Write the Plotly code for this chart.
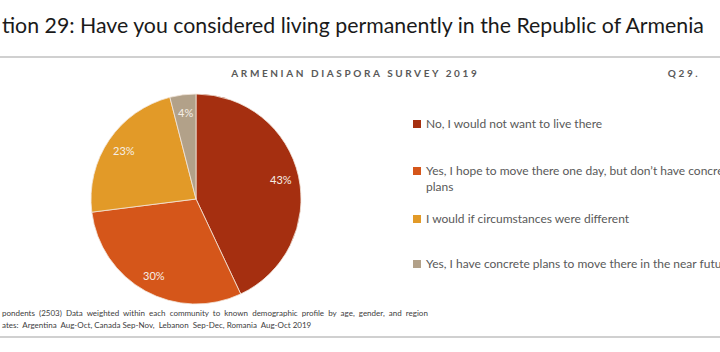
import math
import plotly.graph_objects as go

labels = ["No, I would not want to live there",
          "Yes, I hope to move there one day, but don\u2019t have concrete plans",
          "I would if circumstances were different",
          "Yes, I have concrete plans to move there in the near future"]
legend_text = ["No, I would not want to live there",
               "Yes, I hope to move there one day, but don\u2019t have concrete<br>plans",
               "I would if circumstances were different",
               "Yes, I have concrete plans to move there in the near future"]
values = [43, 30, 23, 4]
colors = ["#A52F10", "#D5561A", "#E29A28", "#B2A189"]

title_text = "tion 29: Have you considered living permanently in the Republic of Armenia"
survey_text = "ARMENIAN DIASPORA SURVEY 2019"
qnum_text = "Q29."
foot1 = "pondents  (2503)  Data  weighted  within  each  community  to  known  demographic  profile  by  age,  gender,  and  region"
foot2 = "ates:  Argentina  Aug-Oct, Canada Sep-Nov,  Lebanon  Sep-Dec, Romania  Aug-Oct 2019"

W, H = 720, 352
cx, cy, r = 196, 199, 105

fig = go.Figure()
fig.add_trace(go.Pie(
    labels=labels, values=values, sort=False, direction="clockwise", rotation=0,
    marker=dict(colors=colors, line=dict(color="#F3E6DA", width=0.8)),
    textinfo="none",
    domain=dict(x=[(cx - r) / W, (cx + r) / W], y=[(H - cy - r) / H, (H - cy + r) / H]),
    showlegend=False, hoverinfo="label+percent",
))

annotations = []
shapes = []
def px(x):
    return x / W
def py(y):
    return 1 - y / H

# slice value labels placed at ~0.83 r along each slice's mid-angle
total = sum(values)
cum = 0
for v in values:
    mid = (cum + v / 2) / total * 2 * math.pi
    cum += v
    lx = cx + 0.83 * r * math.sin(mid)
    ly = cy - 0.83 * r * math.cos(mid)
    annotations.append(dict(text=f"{v}%", x=px(lx), y=py(ly), xref="paper", yref="paper",
                            xanchor="center", yanchor="middle", showarrow=False,
                            font=dict(family="Lato", size=11, color="#F5EEE6")))

annotations.append(dict(text=title_text, x=px(0), y=py(25), xref="paper", yref="paper",
                        xanchor="left", yanchor="middle", showarrow=False,
                        font=dict(family="Lato", size=21.3, color="#1A1A1A")))
annotations.append(dict(text="<b>" + survey_text + "</b>", x=px(355), y=py(73), xref="paper", yref="paper",
                        xanchor="center", yanchor="middle", showarrow=False,
                        font=dict(family="Lato", size=10, color="#595959")))
annotations.append(dict(text="<b>" + qnum_text + "</b>", x=px(684), y=py(73), xref="paper", yref="paper",
                        xanchor="center", yanchor="middle", showarrow=False,
                        font=dict(family="Lato", size=10, color="#595959")))
annotations.append(dict(text=foot1, x=px(0), y=py(313), xref="paper", yref="paper",
                        xanchor="left", yanchor="middle", showarrow=False,
                        font=dict(family="Liberation Sans Narrow, Lato", size=8, color="#404040")))
annotations.append(dict(text=foot2, x=px(0), y=py(325), xref="paper", yref="paper",
                        xanchor="left", yanchor="middle", showarrow=False,
                        font=dict(family="Liberation Sans Narrow, Lato", size=8, color="#404040")))

leg_y = [124, 171, 219, 264]
for i, (t, c) in enumerate(zip(legend_text, colors)):
    y0 = leg_y[i]
    annotations.append(dict(text=t, x=px(424), y=py(y0 - 10), xref="paper", yref="paper",
                            xanchor="left", yanchor="top", align="left", showarrow=False,
                            font=dict(family="Lato", size=12, color="#595959")))
    shapes.append(dict(type="rect", xref="paper", yref="paper",
                       x0=px(413), x1=px(421), y0=py(y0 - 4), y1=py(y0 + 4),
                       fillcolor=c, line=dict(width=0)))

shapes.append(dict(type="line", xref="paper", yref="paper", x0=0, x1=1, y0=py(57), y1=py(57),
                   line=dict(color="#C0C0C0", width=1.5)))
shapes.append(dict(type="line", xref="paper", yref="paper", x0=0, x1=1, y0=py(337), y1=py(337),
                   line=dict(color="#C0C0C0", width=1.5)))

fig.update_layout(width=W, height=H, margin=dict(l=0, r=0, t=0, b=0),
                  paper_bgcolor="white", plot_bgcolor="white",
                  annotations=annotations, shapes=shapes)

post = """
var gd = document.getElementsByClassName('plotly-graph-div')[0];
function spacing(){
  var ts = gd.querySelectorAll('.annotation-text');
  ts.forEach(function(t){
    var s = t.textContent;
    if (s.indexOf('ARMENIAN') === 0) t.style.letterSpacing = '2.6px';
    if (s.indexOf('Q29') === 0) t.style.letterSpacing = '2.6px';
  });
}
spacing();
gd.on('plotly_afterplot', spacing);
"""
fig.write_html("out.html", post_script=post)
